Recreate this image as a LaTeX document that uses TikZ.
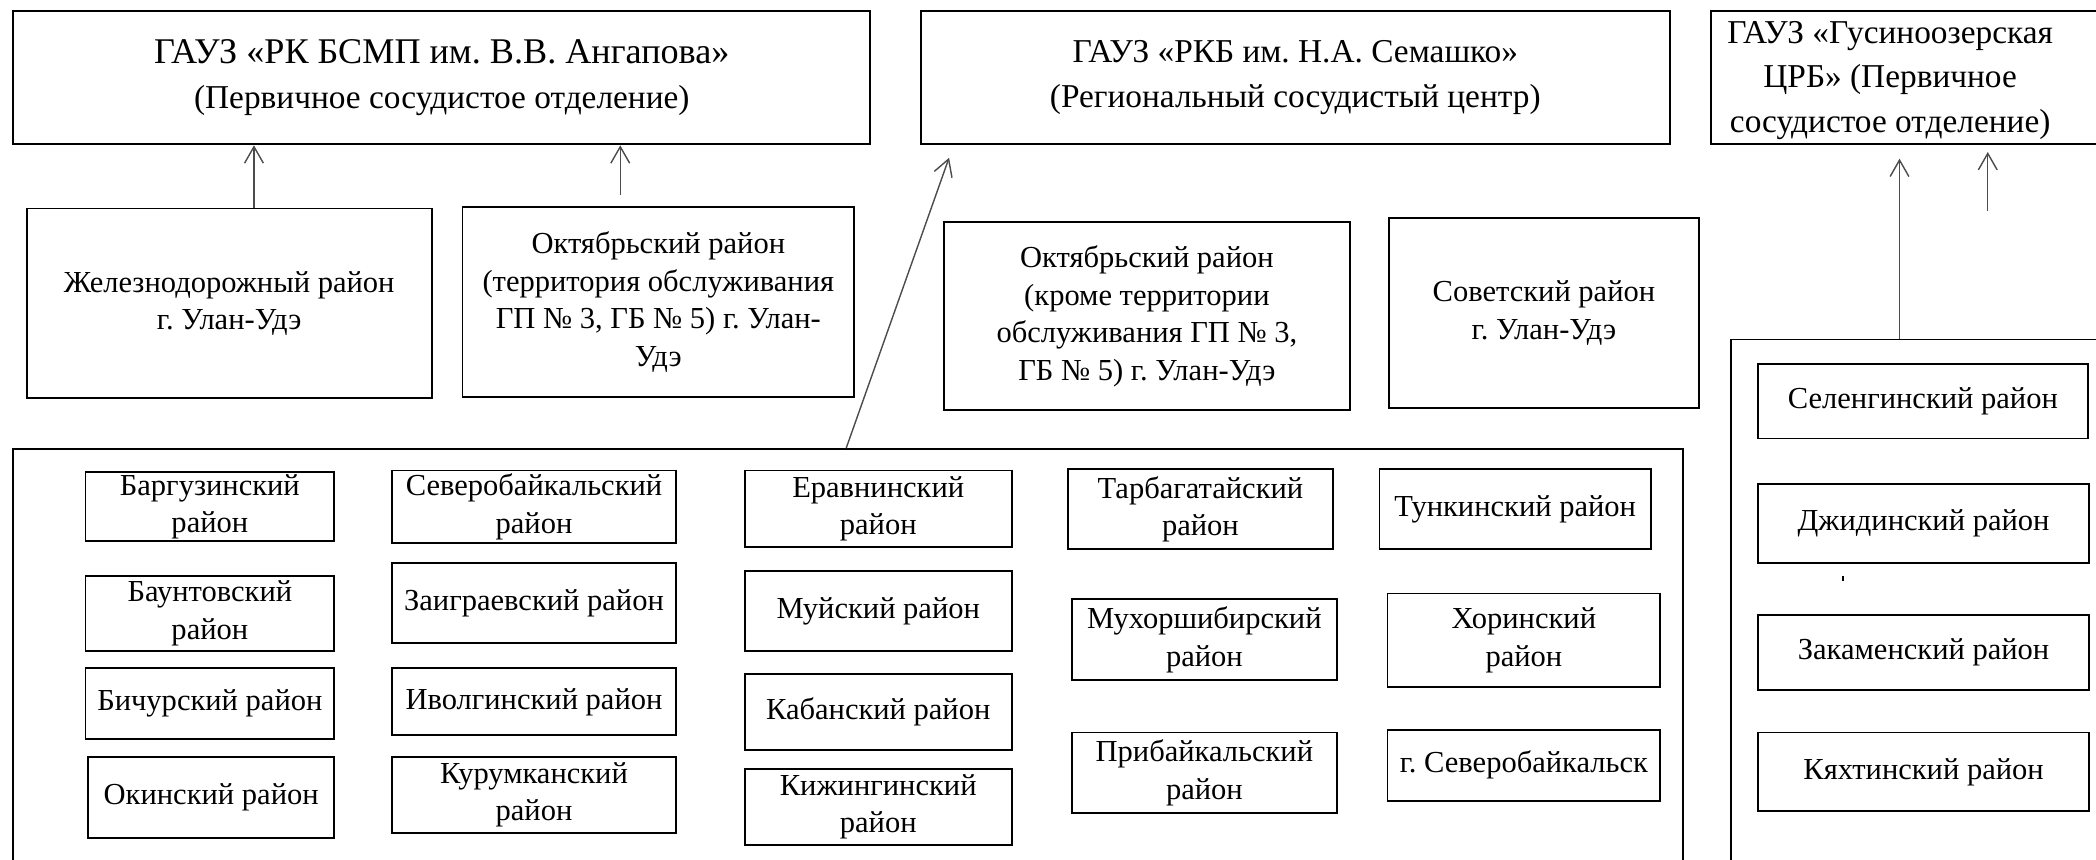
\documentclass[tikz,border=0pt]{standalone}
\usepackage{fontspec}
\setmainfont{Liberation Serif}
\usetikzlibrary{arrows.meta}
\frenchspacing
\newcommand{\distbox}[7][box]{\node[#1, minimum width={(#5-#3)*0.02cm}, minimum height={(#6-#4)*0.02cm}] (#2) at ({(#3+#5)/2},{(#4+#6)/2}) {#7};}
\begin{document}
\begin{tikzpicture}[x=0.02cm, y=-0.02cm,
    box/.style={draw, line width=0.8pt, inner sep=0pt, align=center, font=\fontsize{13}{16}\selectfont},
    head/.style={box, font=\fontsize{14.2}{19}\selectfont},
    arr/.style={draw=black!70, line width=0.6pt, -{Straight Barb[length=7pt,width=8pt]}}]
    \useasboundingbox (0,0) rectangle (1568,643);
    \clip (0,0) rectangle (1568,643);

    \distbox[head]{bsmp}{10}{8}{651}{108}{{\fontsize{15.4}{19}\selectfont ГАУЗ «РК БСМП им. В.В. Ангапова»}\\(Первичное сосудистое отделение)}
    \distbox[head]{semashko}{689}{8}{1249}{108}{ГАУЗ «РКБ им. Н.А. Семашко»\\(Региональный сосудистый центр)}
    \distbox{gusbox}{1280}{8}{1640}{108}{}
    \node[head, draw=none] (gus) at (1414,60) {ГАУЗ «Гусиноозерская\\ЦРБ» (Первичное\\сосудистое отделение)};

    \distbox{zhel}{20}{156}{323}{298}{Железнодорожный район\\г. Улан-Удэ}
    \distbox{okt1}{346}{155}{639}{297}{Октябрьский район\\(территория обслуживания\\ГП № 3, ГБ № 5) г. Улан-\\Удэ}
    \distbox{okt2}{706}{166}{1010}{307}{Октябрьский район\\(кроме территории\\обслуживания ГП № 3,\\ГБ № 5) г. Улан-Удэ}
    \distbox{sov}{1039}{163}{1271}{305}{Советский район\\г. Улан-Удэ}

    \distbox{rsc}{10}{336}{1259}{680}{}
    \distbox{gusgrp}{1295}{254}{1640}{680}{}

    \distbox{barg}{64}{353}{250}{405}{Баргузинский\\район}
    \distbox{baunt}{64}{431}{250}{487}{Баунтовский\\район}
    \distbox{bich}{64}{500}{250}{553}{Бичурский район}
    \distbox{okin}{66}{566}{250}{627}{Окинский район}

    \distbox{sevb}{293}{352}{506}{406}{Северобайкальский\\район}
    \distbox{zaigr}{293}{421}{506}{481}{Заиграевский район}
    \distbox{ivolg}{293}{500}{506}{550}{Иволгинский район}
    \distbox{kurum}{293}{566}{506}{623}{Курумканский\\район}

    \distbox{erav}{557}{352}{757}{409}{Еравнинский\\район}
    \distbox{muy}{557}{427}{757}{487}{Муйский район}
    \distbox{kaban}{557}{504}{757}{561}{Кабанский район}
    \distbox{kizh}{557}{575}{757}{632}{Кижингинский\\район}

    \distbox{tarb}{799}{351}{997}{411}{Тарбагатайский\\район}
    \distbox{mukh}{802}{448}{1000}{509}{Мухоршибирский\\район}
    \distbox{prib}{802}{548}{1000}{608}{Прибайкальский\\район}

    \distbox{tunk}{1032}{351}{1235}{411}{Тункинский район}
    \distbox{khor}{1038}{444}{1242}{514}{Хоринский\\район}
    \distbox{sevbk}{1038}{546}{1242}{599}{г. Северобайкальск}

    \distbox{seleng}{1315}{272}{1562}{328}{Селенгинский район}
    \distbox{dzhid}{1315}{362}{1563}{421}{Джидинский район}
    \distbox{zakam}{1315}{460}{1563}{516}{Закаменский район}
    \distbox{kyakht}{1315}{548}{1563}{607}{Кяхтинский район}

    \coordinate (a1) at (190,152); \coordinate (a2) at (464,146);
    \coordinate (a3) at (633,336); \coordinate (a3e) at (710,118);
    \coordinate (a4) at (1421,254); \coordinate (a5) at (1487,158);

    \draw[arr] (zhel.north -| a1) -- (bsmp.south -| a1);
    \draw[arr] (a2) -- (bsmp.south -| a2);
    \draw[arr] (rsc.north -| a3) -- (a3e);
    \draw[arr, shorten >=0.2cm] (gusgrp.north -| a4) -- (gusbox.south -| a4);
    \draw[arr, shorten >=0.1cm] (a5) -- (gusbox.south -| a5);
    \draw[line width=0.8pt] (1379,431) -- (1379,435);
\end{tikzpicture}
\end{document}
